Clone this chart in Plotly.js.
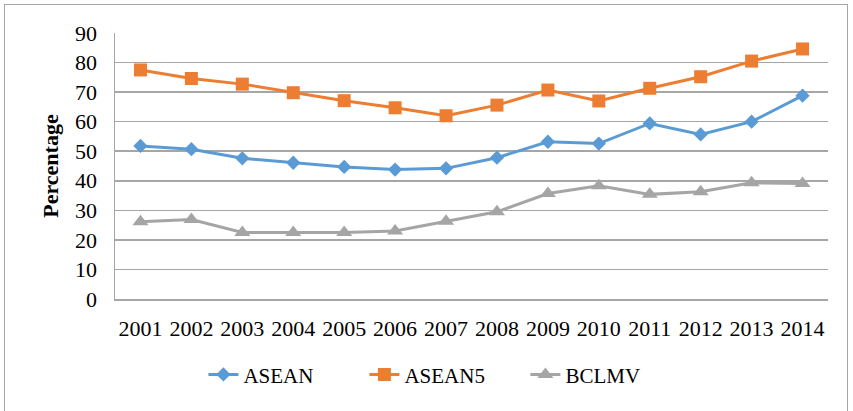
<!DOCTYPE html>
<html>
<head>
<meta charset="utf-8">
<script src="https://cdn.plot.ly/plotly-3.0.1.min.js"></script>
<style>
html,body{margin:0;padding:0;background:#fff;}
#wrap{position:relative;width:853px;height:411px;}
#chart{width:853px;height:411px;}
#frame{position:absolute;left:4px;top:4px;width:844px;height:420px;border:1.5px solid #A6A6A6;pointer-events:none;box-sizing:border-box;}
</style>
</head>
<body>
<div id="wrap"><div id="chart"></div><div id="frame"></div></div>
<script>
const years = ['2001','2002','2003','2004','2005','2006','2007','2008','2009','2010','2011','2012','2013','2014'];
const asean  = [51.8, 50.7, 47.6, 46.1, 44.7, 43.8, 44.2, 47.8, 53.2, 52.6, 59.4, 55.7, 60.0, 68.8];
const asean5 = [77.5, 74.6, 72.7, 69.8, 67.1, 64.7, 62.0, 65.6, 70.7, 67.0, 71.3, 75.2, 80.5, 84.6];
const bclmv  = [26.1, 26.9, 22.5, 22.5, 22.5, 23.0, 26.3, 29.5, 35.7, 38.3, 35.4, 36.3, 39.3, 39.1];
const yTicks = [0,10,20,30,40,50,60,70,80,90];

const FONT = 'Liberation Serif, Times New Roman, serif';

const traces = [
  {x: years, y: asean, name: 'ASEAN', type: 'scatter', mode: 'lines+markers',
   line: {color: '#5B9BD5', width: 3}, marker: {symbol: 'diamond', size: 11, color: '#5B9BD5'}},
  {x: years, y: asean5, name: 'ASEAN5', type: 'scatter', mode: 'lines+markers',
   line: {color: '#ED7D31', width: 3}, marker: {symbol: 'square', size: 13, color: '#ED7D31'}},
  {x: years, y: bclmv, name: 'BCLMV', type: 'scatter', mode: 'lines+markers',
   line: {color: '#A5A5A5', width: 3}, marker: {symbol: 'triangle-up', size: 14, color: '#A5A5A5'}}
];

const layout = {
  width: 853, height: 411,
  margin: {l: 115, r: 25, t: 33, b: 112},
  paper_bgcolor: '#fff', plot_bgcolor: '#fff',
  font: {family: FONT, size: 22, color: '#000'},
  showlegend: true,
  legend: {orientation: 'h', x: 0.124, xanchor: 'left', y: -0.285, yanchor: 'middle',
           font: {family: FONT, size: 21, color: '#000'}, entrywidth: 116, entrywidthmode: 'pixels',
           traceorder: 'normal'},
  xaxis: {type: 'category', range: [-0.5, 13.5], showgrid: false, zeroline: false,
          showline: true, linecolor: '#A6A6A6', linewidth: 1.5, ticks: '',
          tickfont: {family: FONT, size: 22, color: '#000'}, ticklabelstandoff: 9, fixedrange: true},
  yaxis: {range: [0, 90], tickvals: yTicks, ticktext: yTicks.map(String), showgrid: true,
          gridcolor: '#A6A6A6', gridwidth: 1.5, zeroline: false,
          showline: true, linecolor: '#A6A6A6', linewidth: 1.5, ticks: '', mirror: false,
          tickfont: {family: FONT, size: 22, color: '#000'}, ticklabelstandoff: 12,
          title: {text: '<b>Percentage</b>', font: {family: FONT, size: 22, color: '#000'}, standoff: 10},
          fixedrange: true}
};

Plotly.newPlot('chart', traces, layout, {displayModeBar: false, staticPlot: true});
</script>
</body>
</html>
